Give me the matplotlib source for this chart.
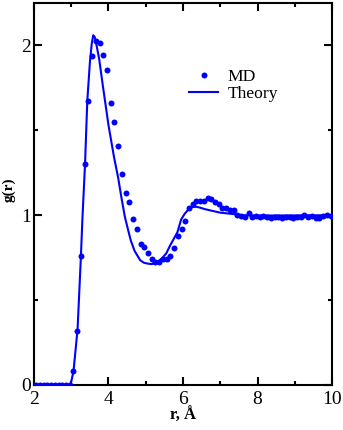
import numpy as np
import matplotlib.pyplot as plt
from matplotlib.ticker import MultipleLocator

# MD data (r in Angstrom, g(r))
md_r = [2.06, 2.16, 2.26, 2.36, 2.46, 2.56, 2.66, 2.76, 2.86, 2.96,
        3.06, 3.16, 3.26, 3.36, 3.46, 3.56, 3.66, 3.76, 3.86, 3.96,
        4.06, 4.16, 4.26, 4.36, 4.46, 4.56, 4.66, 4.76, 4.86, 4.96,
        5.06, 5.16, 5.26, 5.36, 5.46, 5.56, 5.66, 5.76, 5.86, 5.96,
        6.06, 6.16, 6.26, 6.36, 6.46, 6.56, 6.66, 6.76, 6.86, 6.96,
        7.06, 7.16, 7.26, 7.36, 7.46, 7.56, 7.66, 7.76, 7.86, 7.96,
        8.06, 8.16, 8.26, 8.36, 8.46, 8.56, 8.66, 8.76, 8.86, 8.96,
        9.06, 9.16, 9.26, 9.36, 9.46, 9.56, 9.66, 9.76, 9.86, 9.96]
md_g = [0.0, 0.0, 0.0, 0.0, 0.0, 0.0, 0.0, 0.0, 0.0, 0.0,
        0.08, 0.32, 0.757, 1.30, 1.67, 1.94, 2.025, 2.015, 1.945, 1.853,
        1.66, 1.55, 1.405, 1.24, 1.13, 1.08, 0.976, 0.92, 0.83, 0.81,
        0.775, 0.745, 0.722, 0.725, 0.74, 0.745, 0.76, 0.805, 0.878, 0.92,
        0.965, 1.045, 1.065, 1.082, 1.082, 1.082, 1.10, 1.096, 1.078, 1.065,
        1.04, 1.04, 1.033, 1.03, 1.0, 0.994, 0.99, 1.012, 0.99, 0.998,
        0.99, 0.995, 0.99, 0.985, 0.99, 0.99, 0.985, 0.99, 0.988, 0.985,
        0.99, 0.99, 1.0, 0.99, 0.998, 0.985, 0.985, 0.995, 1.0, 0.998]

# theory curve
th_r = [2.0, 2.9, 2.97, 3.0, 3.06, 3.1, 3.17, 3.26, 3.3, 3.37, 3.43, 3.5,
        3.55, 3.59, 3.63, 3.68, 3.75, 3.85, 4.0, 4.15, 4.26, 4.35, 4.44,
        4.53, 4.6, 4.7, 4.85, 4.95, 5.05, 5.15, 5.25, 5.35, 5.45, 5.55,
        5.65, 5.75, 5.85, 5.95, 6.05, 6.15, 6.25, 6.35, 6.45, 6.6, 6.8,
        7.0, 7.3, 7.6, 8.0, 9.0, 10.0]
th_g = [0.0, 0.0, 0.0, 0.02, 0.08, 0.17, 0.33, 0.76, 0.98, 1.30, 1.67, 1.90,
        2.01, 2.06, 2.05, 2.0, 1.92, 1.76, 1.53, 1.34, 1.22, 1.10, 0.99,
        0.91, 0.85, 0.79, 0.735, 0.72, 0.715, 0.712, 0.716, 0.73, 0.75, 0.775,
        0.82, 0.86, 0.90, 0.975, 1.01, 1.035, 1.048, 1.05, 1.045, 1.035, 1.025,
        1.015, 1.008, 1.0, 0.998, 0.999, 1.0]

plt.rcParams['font.family'] = ['Liberation Serif', 'DejaVu Serif']

fig = plt.figure(figsize=(3.43, 4.30), dpi=100)
ax = fig.add_axes([0.0991, 0.1047, 0.8689, 0.8883])

ax.plot(th_r, th_g, color='blue', lw=1.5, label='Theory', zorder=2)
ax.plot(md_r, md_g, 'o', color='blue', ms=4.3, mew=0, label='MD', zorder=3)

ax.set_xlim(2, 10)
ax.set_ylim(0, 2.25)
ax.xaxis.set_major_locator(MultipleLocator(2))
ax.xaxis.set_minor_locator(MultipleLocator(1))
ax.yaxis.set_major_locator(MultipleLocator(1))
ax.yaxis.set_minor_locator(MultipleLocator(0.5))
ax.tick_params(which='both', direction='in', top=True, right=True, width=1.5, labelsize=14)
ax.tick_params(which='major', length=6)
ax.tick_params(which='minor', length=3)
ax.tick_params(axis='y', pad=2)
ax.tick_params(axis='x', pad=4)
for s in ax.spines.values():
    s.set_linewidth(1.5)

ax.set_xlabel('r, Å', fontsize=12, fontweight='bold', labelpad=0)
ax.set_ylabel('g(r)', fontsize=11, fontweight='bold')
ax.yaxis.set_label_coords(-0.063, 0.51)

handles, labels = ax.get_legend_handles_labels()
ax.legend(handles[::-1], labels[::-1], loc='upper left', bbox_to_anchor=(0.497, 0.847),
          frameon=False, fontsize=12.6, handlelength=1.65, handletextpad=0.57,
          labelspacing=0.05, borderaxespad=0)

fig.savefig('out.png', dpi=100)
